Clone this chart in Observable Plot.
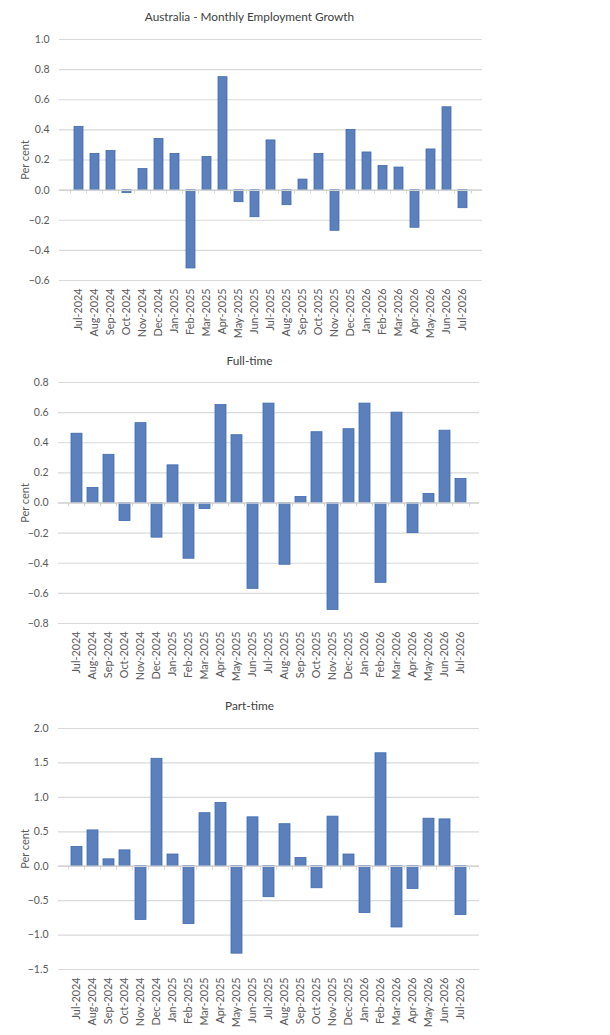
<!DOCTYPE html>
<html>
<head>
<meta charset="utf-8">
<script src="https://cdn.jsdelivr.net/npm/d3@7"></script>
<script src="https://cdn.jsdelivr.net/npm/@observablehq/plot@0.6"></script>
<style>
body { margin: 0; background: #fff; }
#chart svg { display: block; }
</style>
</head>
<body>
<div id="chart"></div>
<script>
const months = ["Jul-2024","Aug-2024","Sep-2024","Oct-2024","Nov-2024","Dec-2024","Jan-2025","Feb-2025","Mar-2025","Apr-2025","May-2025","Jun-2025","Jul-2025","Aug-2025","Sep-2025","Oct-2025","Nov-2025","Dec-2025","Jan-2026","Feb-2026","Mar-2026","Apr-2026","May-2026","Jun-2026","Jul-2026"];
const total = [0.42,0.24,0.26,-0.02,0.14,0.34,0.24,-0.52,0.22,0.75,-0.08,-0.18,0.33,-0.10,0.07,0.24,-0.27,0.40,0.25,0.16,0.15,-0.25,0.27,0.55,-0.12];
const fullTime = [0.46,0.10,0.32,-0.12,0.53,-0.23,0.25,-0.37,-0.04,0.65,0.45,-0.57,0.66,-0.41,0.04,0.47,-0.71,0.49,0.66,-0.53,0.60,-0.20,0.06,0.48,0.16];
const partTime = [0.28,0.52,0.10,0.23,-0.78,1.56,0.17,-0.84,0.77,0.92,-1.27,0.71,-0.45,0.61,0.12,-0.32,0.72,0.17,-0.68,1.64,-0.89,-0.33,0.69,0.68,-0.71];

const titles = ["Australia - Monthly Employment Growth","Full-time","Part-time"];
const yTicks1 = [-0.6,-0.4,-0.2,0,0.2,0.4,0.6,0.8,1.0];
const yTicks2 = [-0.8,-0.6,-0.4,-0.2,0,0.2,0.4,0.6,0.8];
const yTicks3 = [-1.5,-1.0,-0.5,0,0.5,1.0,1.5,2.0];

const FONT = "Lato, 'Open Sans', sans-serif";

function panel({title, values, ticks, height, mt, mb, ml, mr, pad, titleDy}) {
  const data = months.map((m, i) => ({month: m, value: values[i]}));
  const width = 610;
  const step = (width - ml - mr) / months.length;
  const lo = ticks[0], hi = ticks[ticks.length - 1];
  const tickLen = 4 * (hi - lo) / (height - mt - mb);
  return Plot.plot({
    width, height,
    marginTop: mt, marginBottom: mb, marginLeft: ml, marginRight: mr,
    style: {fontFamily: FONT, fontSize: "11px", color: "#595959", background: "#fff"},
    x: {domain: months, padding: pad, label: null},
    y: {domain: [lo, hi], ticks, label: null},
    marks: [
      Plot.gridY(ticks, {stroke: "#d9d9d9", strokeOpacity: 1, strokeWidth: 1.2}),
      Plot.barY(data, {x: "month", y: "value", fill: "#5b80bc", stroke: "#3f6bb3", strokeWidth: 0.8}),
      Plot.ruleY([0], {stroke: "#d4d4d4", strokeWidth: 1.5}),
      Plot.ruleX(months, {x: d => d, y1: 0, y2: -tickLen, dx: -step / 2, stroke: "#d4d4d4"}),
      Plot.ruleX(months.slice(-1), {x: d => d, y1: 0, y2: -tickLen, dx: step / 2, stroke: "#d4d4d4"}),
      Plot.axisY(ticks, {tickSize: 0, tickPadding: 10, tickFormat: d3.format(".1f"), fill: "#595959", fontSize: 10.5}),
      Plot.axisX({tickSize: 0, tickPadding: 8, tickRotate: -90, fill: "#595959", fontSize: 10.8}),
      Plot.text(["Per cent"], {frameAnchor: "left", dx: -ml + 25, rotate: -90, textAnchor: "middle", lineAnchor: "middle", fill: "#595959", fontSize: 11}),
      Plot.text([title], {frameAnchor: "top-left", dx: 249 - ml, dy: titleDy, textAnchor: "middle", lineAnchor: "middle", fill: "#404040", fontSize: 11.8})
    ]
  });
}

const el = document.getElementById("chart");
el.append(panel({title: titles[0], values: total, ticks: yTicks1, height: 340, mt: 39, mb: 60, ml: 59, mr: 128, pad: 0.46, titleDy: -22}));
el.append(panel({title: titles[1], values: fullTime, ticks: yTicks2, height: 345, mt: 42, mb: 62, ml: 58, mr: 131, pad: 0.33, titleDy: -21}));
el.append(panel({title: titles[2], values: partTime, ticks: yTicks3, height: 350, mt: 43, mb: 66, ml: 58, mr: 131, pad: 0.3, titleDy: -22}));
</script>
</body>
</html>
